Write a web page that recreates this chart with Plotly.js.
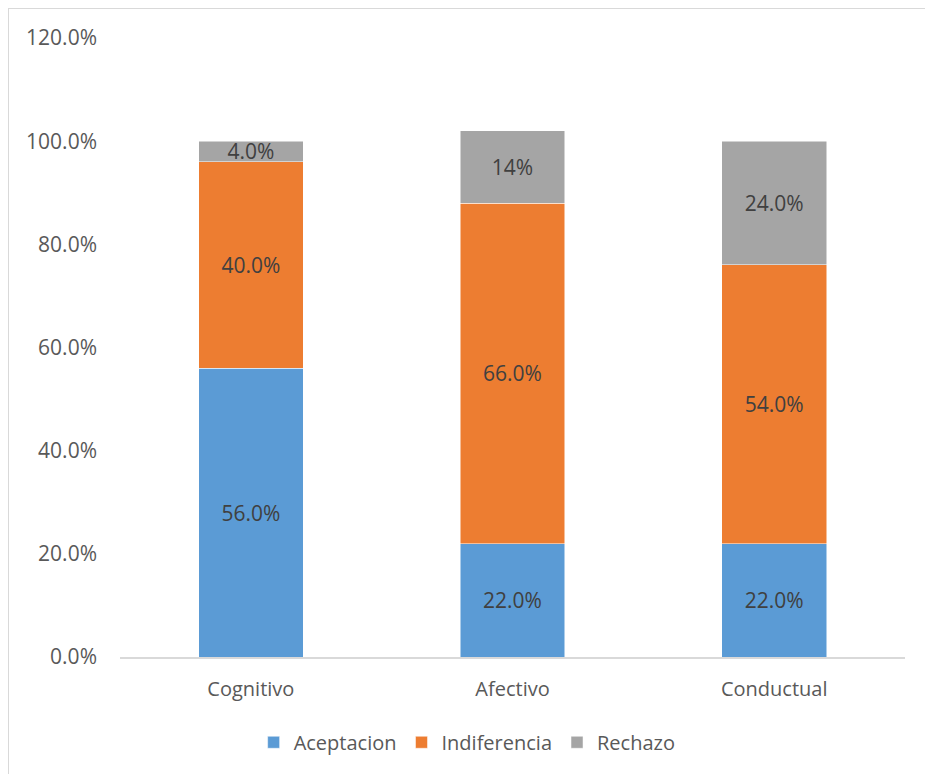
<!DOCTYPE html>
<html>
<head>
<meta charset="utf-8">
<script src="https://cdn.plot.ly/plotly-3.0.1.min.js"></script>
<style>
  html, body { margin: 0; padding: 0; background: #ffffff; }
  #frame { position: absolute; left: 8px; top: 8px; width: 917px; height: 766px;
           border-left: 1px solid #d9d9d9; border-top: 1px solid #d9d9d9; box-sizing: border-box; }
  #chart { position: absolute; left: 0; top: 0; width: 925px; height: 774px; }
</style>
</head>
<body>
<div id="frame"></div>
<div id="chart"></div>
<script>
// Dimensions of attitude, in percent
const categories = ['Cognitivo', 'Afectivo', 'Conductual'];
const aceptacion = [56, 22, 22];
const indiferencia = [40, 66, 54];
const rechazo = [4, 14, 24];
// decimals shown in each data label
const rechazoDecimals = [1, 0, 1];
const yTicks = [0, 20, 40, 60, 80, 100, 120];

const FONT = 'Open Sans, sans-serif';

function labels(values, decimals) {
  return values.map((v, i) => v.toFixed(decimals ? decimals[i] : 1) + '%');
}

function series(name, values, color, decimals) {
  return {
    type: 'bar',
    name: name,
    x: categories,
    y: values,
    text: labels(values, decimals),
    textposition: 'inside',
    insidetextanchor: 'middle',
    textangle: 0,
    constraintext: 'none',
    texttemplate: '%{text}',
    textfont: { family: FONT, size: 21, color: '#404040' },
    marker: { color: color, line: { color: '#ffffff', width: 0.5 } },
    hoverinfo: 'skip'
  };
}

const data = [
  series('Aceptacion', aceptacion, '#5B9BD5'),
  series('Indiferencia', indiferencia, '#ED7D31'),
  series('Rechazo', rechazo, '#A5A5A5', rechazoDecimals)
];

const layout = {
  width: 925,
  height: 774,
  paper_bgcolor: 'rgba(0,0,0,0)',
  plot_bgcolor: 'rgba(0,0,0,0)',
  barmode: 'stack',
  bargap: 0.6,
  margin: { l: 120, r: 20, t: 38, b: 117, autoexpand: false },
  font: { family: FONT, color: '#595959', size: 20 },
  showlegend: true,
  legend: {
    orientation: 'h',
    x: 0.505, xanchor: 'center', xref: 'container',
    y: 0.041, yanchor: 'middle', yref: 'container',
    font: { family: FONT, size: 20, color: '#595959' },
    itemwidth: 30,
    traceorder: 'normal'
  },
  xaxis: {
    type: 'category',
    showline: true,
    linecolor: '#d9d9d9',
    linewidth: 1.5,
    ticks: '',
    ticklabelstandoff: 13,
    tickfont: { family: FONT, size: 20, color: '#595959' },
    automargin: false,
    fixedrange: true
  },
  yaxis: {
    range: [0, 120],
    tickvals: yTicks,
    ticktext: yTicks.map(v => v.toFixed(1) + '%'),
    showgrid: false,
    zeroline: false,
    showline: false,
    ticks: '',
    ticklabelstandoff: 22,
    tickfont: { family: FONT, size: 21, color: '#595959' },
    automargin: false,
    fixedrange: true
  }
};

Plotly.newPlot('chart', data, layout, { displayModeBar: false, staticPlot: true });
</script>
</body>
</html>
